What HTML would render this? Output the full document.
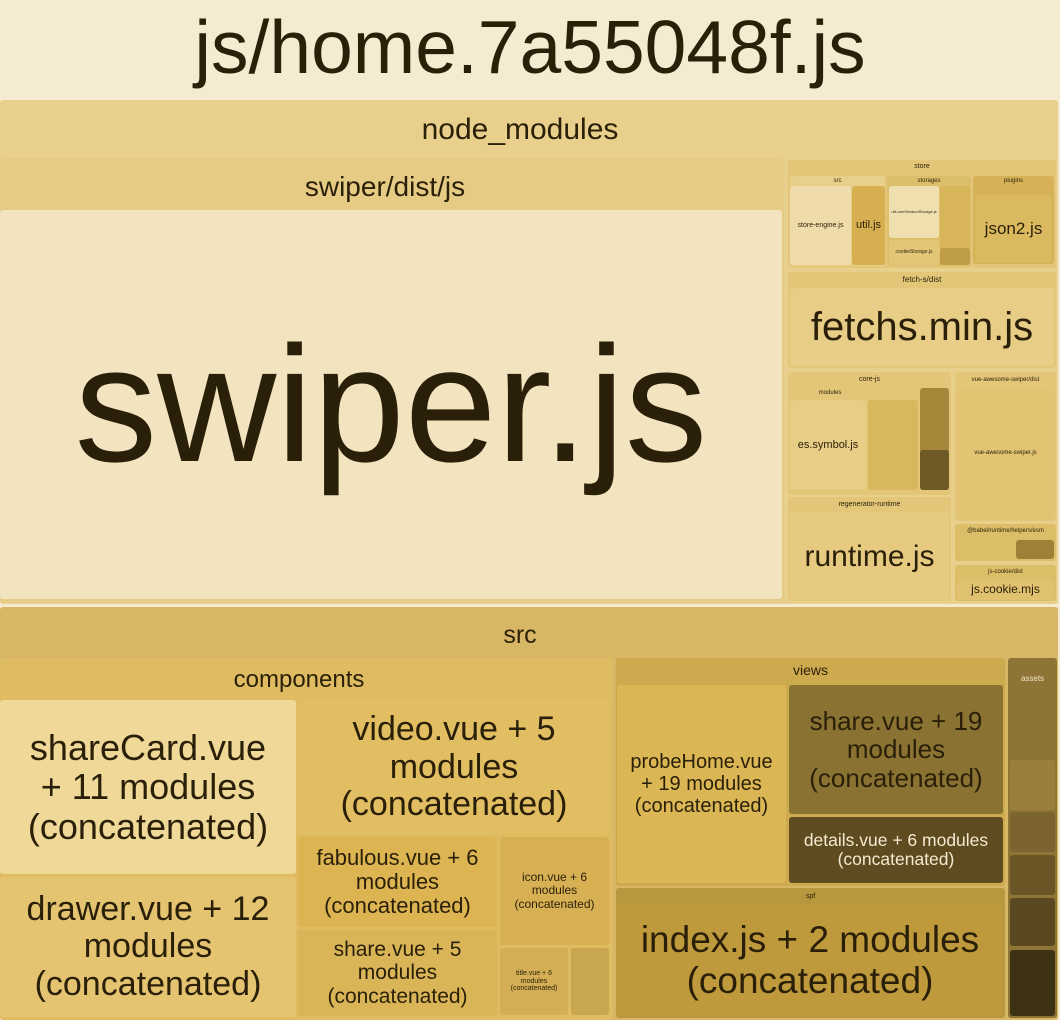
<!DOCTYPE html>
<html><head><meta charset="utf-8"><style>
body{margin:0;width:1060px;height:1020px;background:#f5ebd0;position:relative;overflow:hidden;font-family:"Liberation Sans",sans-serif;color:#2a1f08}
.b{position:absolute;box-sizing:border-box;border-radius:3px}
.c{display:flex;align-items:center;justify-content:center;text-align:center;line-height:1.1}
.h{position:absolute;left:0;right:0;text-align:center;white-space:nowrap}
</style></head><body>
<div class="h" style="top:4px;font-size:75px;">js/home.7a55048f.js</div>

<!-- node_modules -->
<div class="b" style="left:0;top:100px;width:1058px;height:504px;background:#e8cf8c"></div>
<div class="h" style="top:113px;width:1040px;font-size:30px">node_modules</div>
<div class="b" style="left:0;top:158px;width:784px;height:443px;background:#e6cb85"></div>
<div class="h" style="top:171px;width:770px;font-size:28px">swiper/dist/js</div>
<div class="b c" style="left:0;top:210px;width:782px;height:389px;background:#f2e4bf;font-size:165px">swiper.js</div>

<!-- store -->
<div class="b" style="left:788px;top:160px;width:268px;height:108px;background:#e3c678"></div>
<div class="b c" style="left:788px;top:162px;width:268px;height:10px;font-size:7px">store</div>
<div class="b" style="left:790px;top:176px;width:95px;height:90px;background:#e8cf8a"></div>
<div class="b c" style="left:790px;top:177px;width:95px;height:8px;font-size:6px">src</div>
<div class="b c" style="left:790px;top:186px;width:61px;height:79px;background:#efdcaa;font-size:7px">store-engine.js</div>
<div class="b c" style="left:852px;top:186px;width:33px;height:79px;background:#d6b050;font-size:11px">util.js</div>
<div class="b" style="left:887px;top:176px;width:84px;height:90px;background:#ddbe6a"></div>
<div class="b c" style="left:887px;top:177px;width:84px;height:8px;font-size:6px">storages</div>
<div class="b c" style="left:889px;top:186px;width:50px;height:52px;background:#f0e0b0;font-size:4px">util-oneSessionStorage.js</div>
<div class="b c" style="left:889px;top:240px;width:50px;height:25px;background:#e4c679;font-size:5px">cookieStorage.js</div>
<div class="b" style="left:940px;top:186px;width:30px;height:79px;background:#d8b45a"></div>
<div class="b" style="left:940px;top:248px;width:30px;height:17px;background:#bf9d48"></div>
<div class="b" style="left:973px;top:176px;width:81px;height:88px;background:#d6b158"></div>
<div class="b c" style="left:973px;top:177px;width:81px;height:8px;font-size:6px">plugins</div>
<div class="b c" style="left:975px;top:195px;width:77px;height:68px;background:#dab95f;font-size:17px">json2.js</div>

<!-- fetch -->
<div class="b" style="left:788px;top:272px;width:268px;height:96px;background:#e3c678"></div>
<div class="b c" style="left:788px;top:274px;width:268px;height:12px;font-size:8px">fetch-s/dist</div>
<div class="b c" style="left:790px;top:288px;width:264px;height:78px;background:#e8cd86;font-size:40px">fetchs.min.js</div>

<!-- core-js -->
<div class="b" style="left:788px;top:372px;width:163px;height:123px;background:#e3c678"></div>
<div class="b c" style="left:788px;top:374px;width:163px;height:12px;font-size:7px">core-js</div>
<div class="b c" style="left:790px;top:388px;width:80px;height:10px;font-size:6px">modules</div>
<div class="b c" style="left:790px;top:400px;width:76px;height:90px;background:#e8cd86;font-size:11px">es.symbol.js</div>
<div class="b" style="left:868px;top:400px;width:50px;height:90px;background:#d8b75e"></div>
<div class="b" style="left:920px;top:388px;width:29px;height:102px;background:#a68638"></div>
<div class="b" style="left:920px;top:450px;width:29px;height:40px;background:#6e5a26"></div>

<!-- vue-awesome -->
<div class="b" style="left:955px;top:372px;width:101px;height:149px;background:#e3c678"></div>
<div class="b c" style="left:955px;top:374px;width:101px;height:12px;font-size:6px">vue-awesome-swiper/dist</div>
<div class="b c" style="left:957px;top:388px;width:97px;height:131px;background:#e2c473;font-size:6px">vue-awesome-swiper.js</div>

<!-- regenerator -->
<div class="b" style="left:788px;top:497px;width:163px;height:104px;background:#e3c678"></div>
<div class="b c" style="left:788px;top:499px;width:163px;height:12px;font-size:7px">regenerator-runtime</div>
<div class="b c" style="left:790px;top:513px;width:159px;height:86px;background:#e6ca80;font-size:30px">runtime.js</div>

<div class="b" style="left:955px;top:524px;width:101px;height:37px;background:#dcbd68"></div>
<div class="b c" style="left:955px;top:525px;width:101px;height:12px;font-size:6px">@babel/runtime/helpers/esm</div>
<div class="b" style="left:1016px;top:540px;width:38px;height:19px;background:#9e8036"></div>
<div class="b" style="left:955px;top:565px;width:101px;height:36px;background:#dcbd68"></div>
<div class="b c" style="left:955px;top:566px;width:101px;height:12px;font-size:6px">js-cookie/dist</div>
<div class="b c" style="left:957px;top:579px;width:97px;height:21px;background:#e0c16f;font-size:12px">js.cookie.mjs</div>

<!-- src -->
<div class="b" style="left:0;top:607px;width:1058px;height:413px;background:#d7b665"></div>
<div class="h" style="top:621px;width:1040px;font-size:25px">src</div>

<div class="b" style="left:0;top:658px;width:613px;height:362px;background:#dfbc62"></div>
<div class="h" style="top:666px;width:598px;font-size:24px">components</div>
<div class="b c" style="left:0;top:700px;width:296px;height:174px;background:#efd898;font-size:36px">shareCard.vue<br>+ 11 modules<br>(concatenated)</div>
<div class="b c" style="left:0;top:877px;width:296px;height:140px;background:#e4c471;font-size:34px">drawer.vue + 12<br>modules<br>(concatenated)</div>
<div class="b c" style="left:298px;top:700px;width:312px;height:135px;background:#e2be63;font-size:34px">video.vue + 5<br>modules<br>(concatenated)</div>
<div class="b c" style="left:298px;top:837px;width:199px;height:90px;background:#ddb452;font-size:22px">fabulous.vue + 6<br>modules<br>(concatenated)</div>
<div class="b c" style="left:298px;top:930px;width:199px;height:86px;background:#d9b558;font-size:21px">share.vue + 5<br>modules<br>(concatenated)</div>
<div class="b c" style="left:500px;top:837px;width:109px;height:108px;background:#d7b054;font-size:12px">icon.vue + 6<br>modules<br>(concatenated)</div>
<div class="b c" style="left:500px;top:948px;width:68px;height:67px;background:#d3ae55;font-size:7px">title.vue + 6<br>modules<br>(concatenated)</div>
<div class="b" style="left:571px;top:948px;width:38px;height:67px;background:#c9a650"></div>

<!-- views -->
<div class="b" style="left:616px;top:658px;width:389px;height:228px;background:#cdaa4e"></div>
<div class="b c" style="left:616px;top:661px;width:389px;height:20px;font-size:14px">views</div>
<div class="b c" style="left:617px;top:685px;width:169px;height:198px;background:#dbb654;font-size:20px">probeHome.vue<br>+ 19 modules<br>(concatenated)</div>
<div class="b c" style="left:789px;top:685px;width:214px;height:129px;background:#8a7233;font-size:26px">share.vue + 19<br>modules<br>(concatenated)</div>
<div class="b c" style="left:789px;top:817px;width:214px;height:66px;background:#5e4c20;color:#f3ead0;font-size:17.5px">details.vue + 6 modules<br>(concatenated)</div>

<!-- spf -->
<div class="b" style="left:616px;top:888px;width:389px;height:130px;background:#b8973f"></div>
<div class="b c" style="left:616px;top:890px;width:389px;height:14px;font-size:7px">spf</div>
<div class="b c" style="left:617px;top:905px;width:386px;height:111px;background:#bf9a3c;font-size:37px">index.js + 2 modules<br>(concatenated)</div>

<!-- assets -->
<div class="b" style="left:1008px;top:658px;width:49px;height:360px;background:#8e7435"></div>
<div class="b c" style="left:1008px;top:672px;width:49px;height:14px;font-size:8px;color:#f0e6c8">assets</div>
<div class="b" style="left:1010px;top:760px;width:45px;height:50px;background:#9a7f3c"></div>
<div class="b" style="left:1010px;top:812px;width:45px;height:40px;background:#7b6430"></div>
<div class="b" style="left:1010px;top:855px;width:45px;height:40px;background:#6a5526"></div>
<div class="b" style="left:1010px;top:898px;width:45px;height:48px;background:#5a4820"></div>
<div class="b" style="left:1010px;top:950px;width:45px;height:66px;background:#3e3215"></div>
</body></html>
